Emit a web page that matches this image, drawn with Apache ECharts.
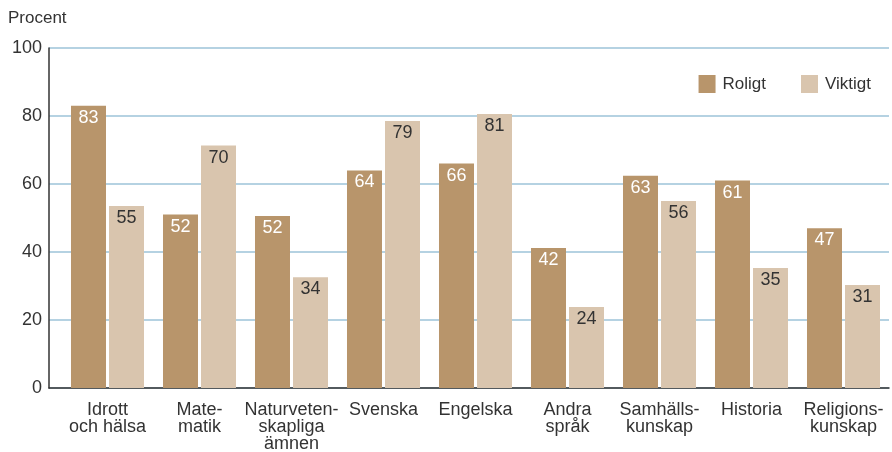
<!DOCTYPE html>
<html><head><meta charset="utf-8">
<script src="https://cdn.jsdelivr.net/npm/echarts@6/dist/echarts.min.js"></script>
<style>html,body{margin:0;padding:0;background:#fff}#c{width:892px;height:452px}</style>
</head><body><div id="c"></div>
<script>
const categories = ['Idrott\noch hälsa','Mate-\nmatik','Naturveten-\nskapliga\nämnen','Svenska','Engelska','Andra\nspråk','Samhälls-\nkunskap','Historia','Religions-\nkunskap'];
// bar heights as drawn in the picture
const roligt = [83, 51, 50.6, 64, 66, 41.2, 62.4, 61, 47];
const viktigt = [53.5, 71.3, 32.6, 78.5, 80.6, 23.8, 55, 35.3, 30.3];
// printed value labels
const roligtLabels = ['83','52','52','64','66','42','63','61','47'];
const viktigtLabels = ['55','70','34','79','81','24','56','35','31'];
const yTicks = [0,20,40,60,80,100];
const font = 'Liberation Sans, Arial, sans-serif';
const fs = 18;
const chart = echarts.init(document.getElementById('c'));
chart.setOption({
  animation:false,
  textStyle:{fontFamily:font},
  title:{text:'Procent',left:8,top:10,padding:0,textStyle:{fontSize:17,fontWeight:'normal',color:'#333',fontFamily:font}},
  legend:{right:21,top:75,padding:0,itemWidth:17,itemHeight:18,itemGap:35,icon:'rect',
    textStyle:{fontSize:17,color:'#333',fontFamily:font,padding:[0,0,0,2]},data:['Roligt','Viktigt']},
  grid:[{left:49,right:3,top:48,bottom:64,containLabel:false,outerBoundsMode:'none'},
        {left:61.5,right:2.5,top:48,bottom:64,containLabel:false,outerBoundsMode:'none'}],
  xAxis:[
    {gridIndex:0,type:'category',data:[''],axisLine:{lineStyle:{color:'#333',width:1.5}},axisTick:{show:false},axisLabel:{show:false}},
    {gridIndex:1,type:'category',data:categories,axisLine:{show:false},axisTick:{show:false},
      axisLabel:{interval:0,fontSize:fs,color:'#333',lineHeight:17,margin:14,fontFamily:font}}
  ],
  yAxis:[
    {gridIndex:0,type:'value',min:0,max:100,interval:20,
      axisLine:{show:true,lineStyle:{color:'#333',width:1.5}},axisTick:{show:false},
      axisLabel:{fontSize:fs,color:'#333',margin:7,fontFamily:font,formatter:v=>yTicks.includes(v)?String(v):''},
      splitLine:{show:true,lineStyle:{color:'#9cc3d8',width:1.5}}},
    {gridIndex:1,type:'value',min:0,max:100,interval:20,show:false,splitLine:{show:false}}
  ],
  series:[
    {name:'Roligt',type:'bar',xAxisIndex:1,yAxisIndex:1,data:roligt,barWidth:35,barGap:'8.6%',
      itemStyle:{color:'#b8956b'},
      label:{show:true,position:'insideTop',distance:3,fontSize:fs,color:'#fff',fontFamily:font,
        formatter:p=>roligtLabels[p.dataIndex]}},
    {name:'Viktigt',type:'bar',xAxisIndex:1,yAxisIndex:1,data:viktigt,barWidth:35,barGap:'8.6%',
      itemStyle:{color:'#d9c5ae'},
      label:{show:true,position:'insideTop',distance:3,fontSize:fs,color:'#333',fontFamily:font,
        formatter:p=>viktigtLabels[p.dataIndex]}}
  ]
});
</script></body></html>
